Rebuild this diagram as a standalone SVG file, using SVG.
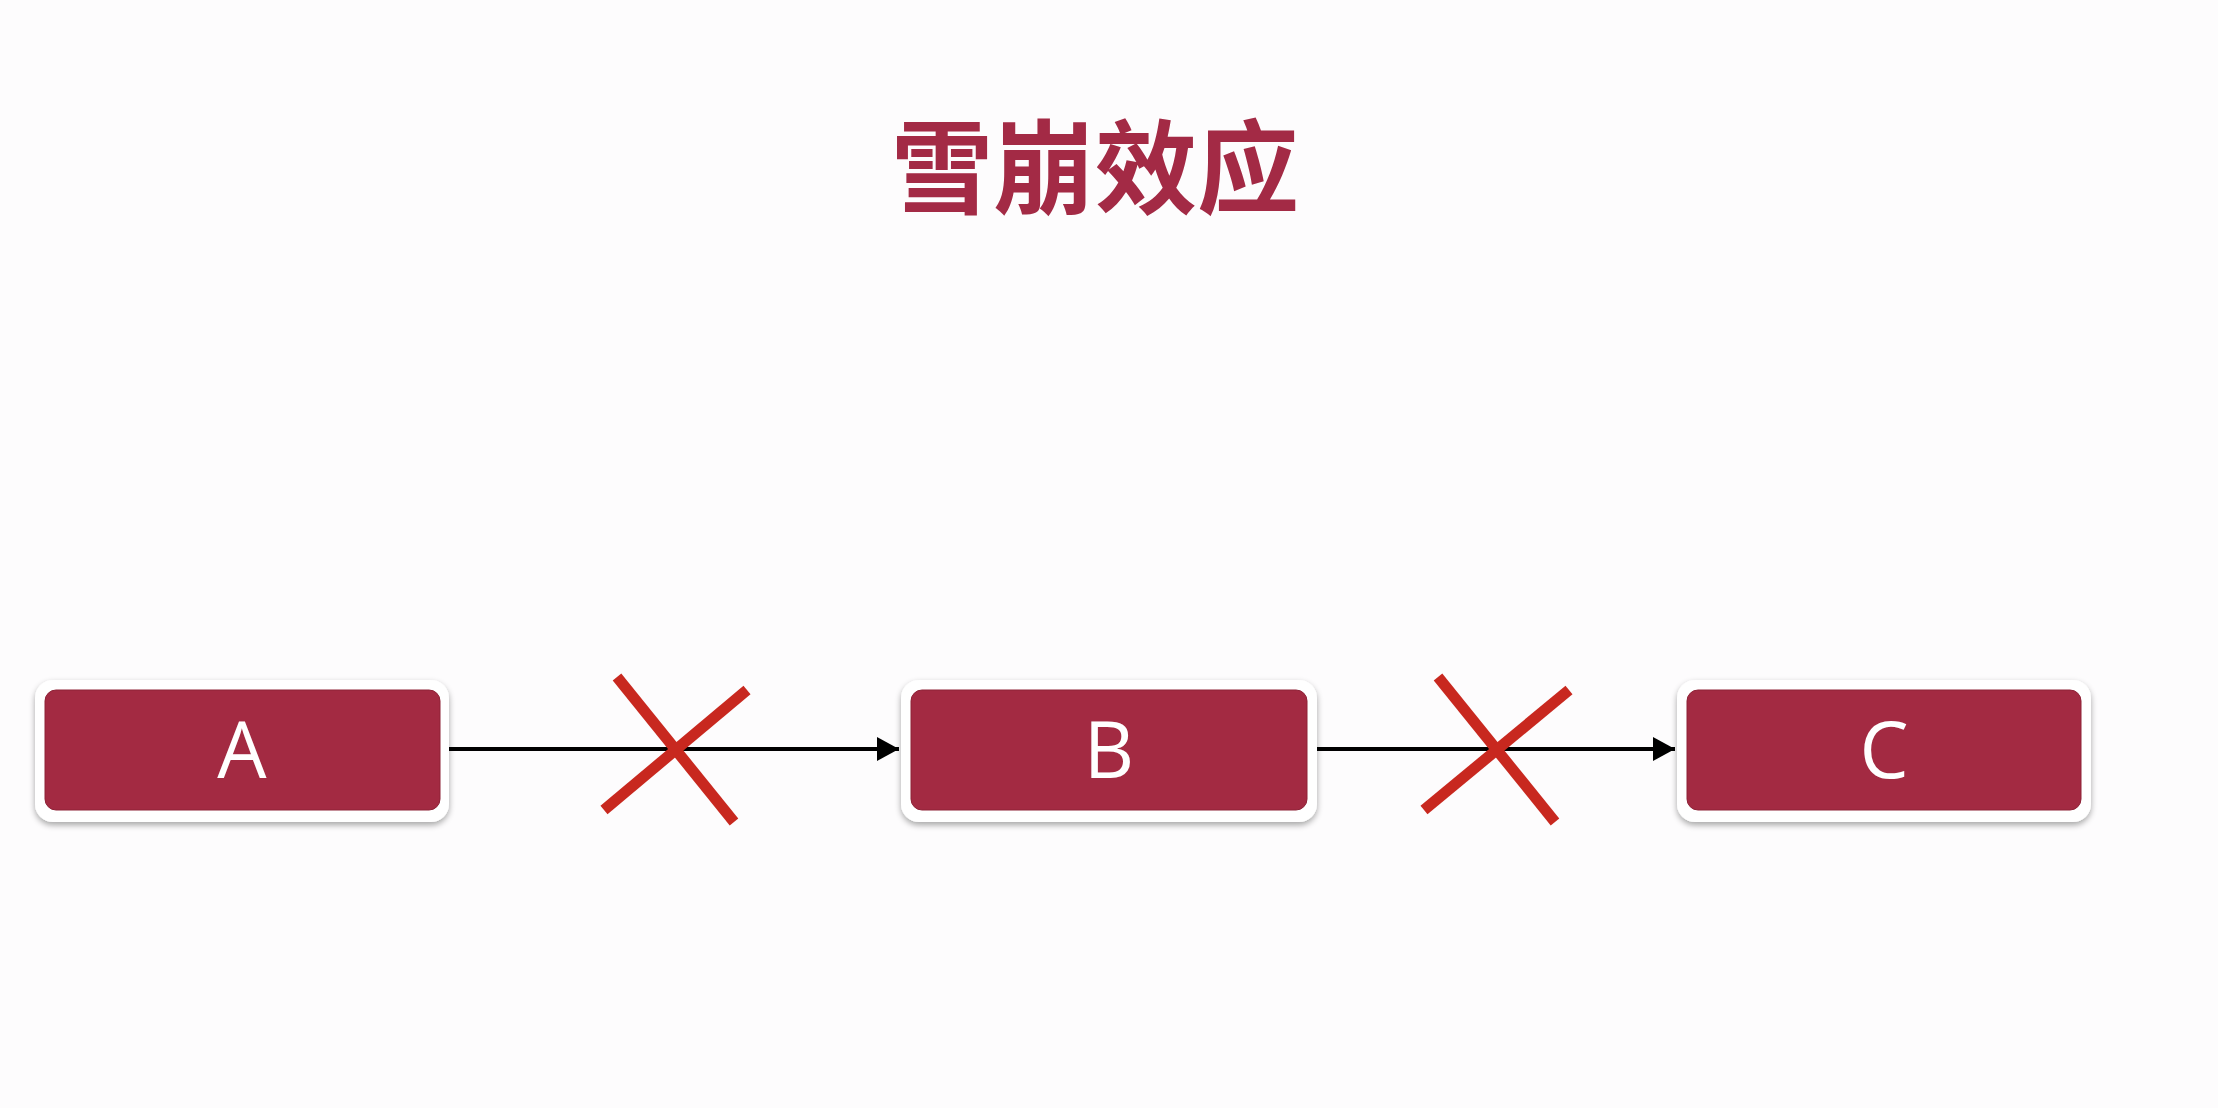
<svg xmlns="http://www.w3.org/2000/svg" width="2218" height="1108" viewBox="0 0 2218 1108">
  <defs>
    <filter id="sh" x="-10%" y="-20%" width="120%" height="150%">
      <feGaussianBlur in="SourceAlpha" stdDeviation="3"/>
      <feOffset dx="0" dy="3" result="b"/>
      <feComponentTransfer><feFuncA type="linear" slope="0.35"/></feComponentTransfer>
      <feMerge><feMergeNode/><feMergeNode in="SourceGraphic"/></feMerge>
    </filter>
    <marker id="arr" markerWidth="22" markerHeight="24" refX="22" refY="12" orient="auto" markerUnits="userSpaceOnUse">
      <path d="M0,0 L22,12 L0,24 Z" fill="#000"/>
    </marker>
  </defs>
  <style>
    .outer { fill: #ffffff; filter: url(#sh); }
    .inner { fill: #a32a42; stroke: #8e2237; stroke-width: 1; }
    .lbl { font-family: "Open Sans", "Liberation Sans", sans-serif; font-size: 78px; fill: #ffffff; text-anchor: middle; }
    .edge { stroke: #000; stroke-width: 4; fill: none; }
    .x { stroke: #c8281f; stroke-width: 11; stroke-linecap: butt; }
  </style>
  <rect width="2218" height="1108" fill="#fdfcfd"/>
  <text x="1095" y="206" font-family="Noto Sans CJK SC, sans-serif" font-weight="bold" font-size="102" fill="#a32a45" text-anchor="middle">雪崩效应</text>
  <g id="connectors">
    <line class="edge" x1="449" y1="749" x2="899" y2="749" marker-end="url(#arr)"/>
    <line class="edge" x1="1317" y1="749" x2="1675" y2="749" marker-end="url(#arr)"/>
    <line class="x" x1="617" y1="677" x2="734" y2="822"/>
    <line class="x" x1="747" y1="690" x2="604" y2="810"/>
    <line class="x" x1="1438" y1="677" x2="1555" y2="822"/>
    <line class="x" x1="1569" y1="690" x2="1424" y2="810"/>
  </g>
  <g id="node-a">
    <rect class="outer" x="35" y="680" width="414" height="142" rx="18"/>
    <rect class="inner" x="45" y="690" width="395" height="120" rx="11"/>
    <text class="lbl" x="242" y="778">A</text>
  </g>
  <g id="node-b">
    <rect class="outer" x="901" y="680" width="416" height="142" rx="18"/>
    <rect class="inner" x="911" y="690" width="396" height="120" rx="11"/>
    <text class="lbl" x="1109" y="778">B</text>
  </g>
  <g id="node-c">
    <rect class="outer" x="1677" y="680" width="414" height="142" rx="18"/>
    <rect class="inner" x="1687" y="690" width="394" height="120" rx="11"/>
    <text class="lbl" x="1884" y="778">C</text>
  </g>
</svg>
